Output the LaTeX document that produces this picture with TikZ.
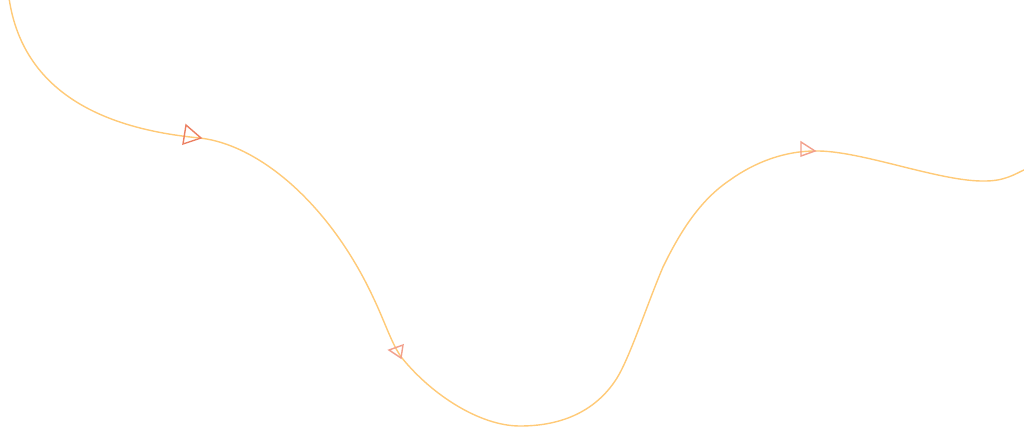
\documentclass[tikz,border=0pt]{standalone}
\usepackage{xcolor}
\usepackage{tikz}
\definecolor{trail}{HTML}{FFCA78}
\definecolor{tipred}{HTML}{EC8062}
\definecolor{tippale}{HTML}{F2A08C}
\tikzset{
  route/.style={draw=trail,line width=0.4pt,line join=round},
  marker/.style={draw=tipred,line width=0.4pt,line join=miter},
  pmarker/.style={draw=tippale,line width=0.4pt,line join=miter}
}

\begin{document}
\begin{tikzpicture}[x=0.01cm,y=-0.01cm]
  \useasboundingbox (0,0) rectangle (1024,427);

  % direction markers
  \coordinate (tipa) at (201,138);
  \coordinate (tipb) at (389,350);
  \coordinate (tipc) at (815,151);

  % the winding route
  \draw[route] (9,-2) .. controls (18,60) and (60,125) .. (200,138)
    .. controls (260,145) and (330,205) .. (373,297)
    .. controls (385,322) and (392,345) .. (402,358)
    .. controls (432,395) and (480,426) .. (520,426)
    .. controls (570,426) and (600,405) .. (617,378)
    .. controls (630,357) and (648,302) .. (663,267)
    .. controls (680,232) and (700,200) .. (730,180)
    .. controls (755,162) and (785,151) .. (815,151)
    .. controls (860,150) and (940,182) .. (985,181)
    .. controls (1005,181) and (1015,174) .. (1026,169);

  \draw[marker] (186,125) -- (183,144) -- (tipa) -- cycle;
  \draw[pmarker] (tipb) -- (403,345) -- (401,358) -- cycle;
  \draw[pmarker] (801,142) -- (801,156) -- (tipc) -- cycle;
\end{tikzpicture}
\end{document}
